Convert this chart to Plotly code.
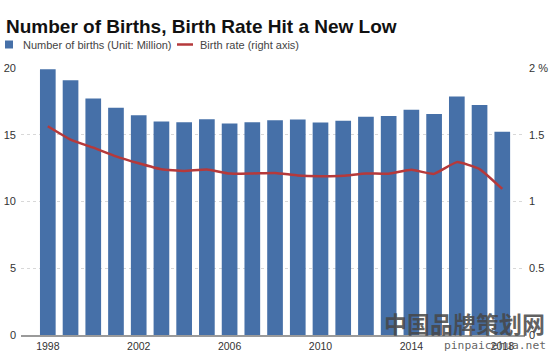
import plotly.graph_objects as go

years = list(range(1998, 2019))
births_million = [19.91, 19.09, 17.71, 17.02, 16.47, 15.99, 15.93, 16.17, 15.85, 15.94,
                  16.08, 16.15, 15.92, 16.04, 16.35, 16.40, 16.87, 16.55, 17.86, 17.23, 15.23]
birth_rate_pct = [1.564, 1.464, 1.403, 1.338, 1.286, 1.241, 1.229, 1.240, 1.209, 1.210,
                  1.214, 1.195, 1.190, 1.193, 1.210, 1.208, 1.237, 1.207, 1.295, 1.243, 1.094]
x_tick_vals = [1998, 2002, 2006, 2010, 2014, 2018]
left_ticks = [0, 5, 10, 15, 20]
right_ticks = [0, 0.5, 1, 1.5, 2]
right_tick_text = ["0", "0.5", "1", "1.5", "2 %"]

W, H = 558, 359
L, R, T, B = 21, 33, 68, 24
PH = H - T - B

def py(p):
    return 1 - (p - T) / PH

def px(p):
    return (p - L) / (W - L - R)

BAR = "#4670a8"
RED = "#b5393b"
FONT = "Liberation Sans, Arial, Helvetica, sans-serif"

fig = go.Figure()
fig.add_trace(go.Bar(x=years, y=births_million, marker=dict(color=BAR, line=dict(width=0)),
                     name="Number of births (Unit: Million)", yaxis="y"))
fig.add_trace(go.Scatter(x=years, y=birth_rate_pct, mode="lines",
                         line=dict(color=RED, width=2.5, shape="spline", smoothing=0.4),
                         name="Birth rate (right axis)", yaxis="y2"))

fig.update_layout(
    width=W, height=H,
    margin=dict(l=L, r=R, t=T, b=B, pad=0, autoexpand=False),
    paper_bgcolor="white", plot_bgcolor="white",
    showlegend=False,
    bargap=0.31,
    font=dict(family=FONT, size=10.5, color="#333"),
    xaxis=dict(range=[1996.82, 2019.0], tickvals=x_tick_vals, ticks="", showgrid=False,
               showline=True, linecolor="#9a9a9a", linewidth=2, zeroline=False,
               automargin=False, tickfont=dict(size=10.5, color="#333")),
    yaxis=dict(range=[0, 20], tickvals=left_ticks, showgrid=True, gridcolor="#d8d8d8",
               griddash="dot", gridwidth=1, zeroline=False, ticks="", showline=False,
               automargin=False, ticklabelstandoff=4, tickfont=dict(size=11, color="#333")),
    yaxis2=dict(range=[0, 2], tickvals=right_ticks, ticktext=right_tick_text, overlaying="y",
                side="right", showgrid=False, zeroline=False, ticks="", showline=False,
                automargin=False, ticklabelstandoff=3, tickfont=dict(size=11, color="#333")),
)

annotations = [
    dict(text="<b>Number of Births, Birth Rate Hit a New Low</b>", x=px(4), y=py(26),
         xref="paper", yref="paper", xanchor="left", yanchor="middle", showarrow=False,
         font=dict(size=19, color="#111", family=FONT)),
    dict(text="Number of births (Unit: Million)", x=px(21), y=py(45),
         xref="paper", yref="paper", xanchor="left", yanchor="middle", showarrow=False,
         font=dict(size=11, color="#444", family=FONT)),
    dict(text="Birth rate (right axis)", x=px(198), y=py(45),
         xref="paper", yref="paper", xanchor="left", yanchor="middle", showarrow=False,
         font=dict(size=11, color="#444", family=FONT)),
    dict(text="<b>中国品牌策划网</b>", x=px(547), y=py(323),
         xref="paper", yref="paper", xanchor="right", yanchor="middle", showarrow=False,
         font=dict(size=23, color="rgba(70,70,70,0.85)", family="Noto Sans CJK SC")),
    dict(text="pinpaicehua.net", x=px(548), y=py(345),
         xref="paper", yref="paper", xanchor="right", yanchor="middle", showarrow=False,
         font=dict(size=11.3, color="rgba(70,70,70,0.85)", family="DejaVu Sans Mono")),
]
fig.update_layout(annotations=annotations)

shapes = [
    dict(type="rect", xref="paper", yref="paper", x0=px(5), x1=px(13), y0=py(48.5), y1=py(40.5),
         fillcolor=BAR, line=dict(width=0)),
    dict(type="line", xref="paper", yref="paper", x0=px(177), x1=px(193), y0=py(44.5), y1=py(44.5),
         line=dict(color=RED, width=2.5)),
]
fig.update_layout(shapes=shapes)

fig.write_html("out.html", config={"displayModeBar": False},
               post_script="document.body.style.margin='0';document.body.style.overflow='hidden';")
